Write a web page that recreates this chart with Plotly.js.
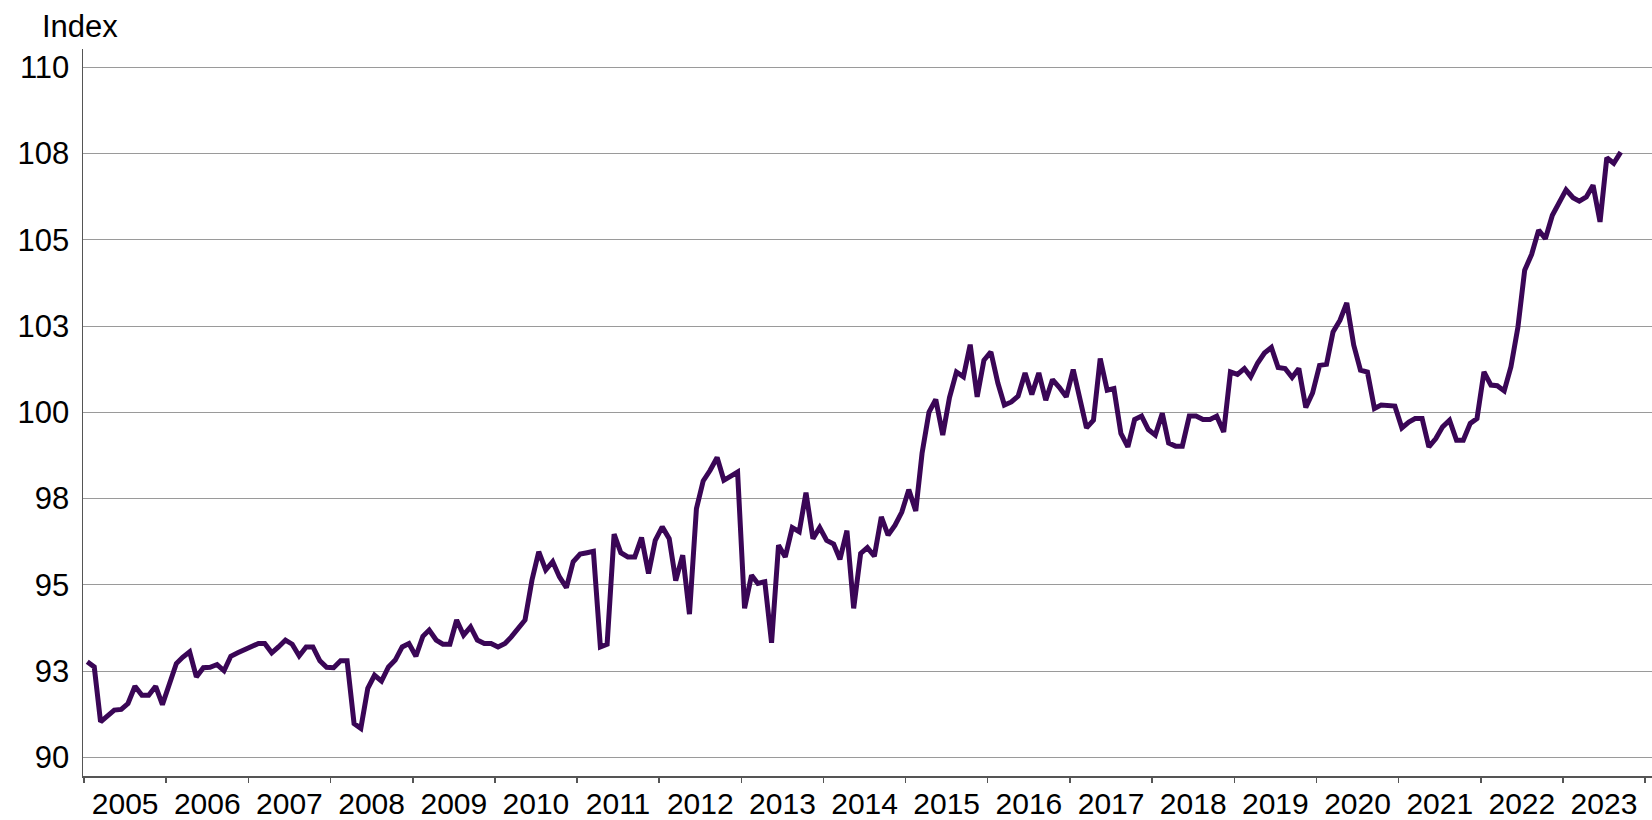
<!DOCTYPE html>
<html>
<head>
<meta charset="utf-8">
<script src="https://cdn.plot.ly/plotly-3.0.1.min.js"></script>
<style>
  html, body { margin: 0; padding: 0; background: #ffffff; }
  #chart { width: 1652px; height: 820px; }
</style>
</head>
<body>
<div id="chart"></div>
<script>
// Monthly index, January 2005 to September 2023
const firstYear = 2005;
const firstMonth = 1;
const indexValues = [
  // 2005
  92.77, 92.62, 91.03, 91.18, 91.37, 91.39, 91.56, 92.06, 91.80, 91.80, 92.06, 91.53,
  // 2006
  92.14, 92.72, 92.90, 93.06, 92.33, 92.60, 92.61, 92.69, 92.51, 92.93, 93.03, 93.13,
  // 2007
  93.22, 93.30, 93.30, 93.03, 93.20, 93.40, 93.28, 92.94, 93.20, 93.20, 92.80, 92.61,
  // 2008
  92.60, 92.80, 92.80, 90.98, 90.84, 92.00, 92.38, 92.21, 92.62, 92.82, 93.20, 93.30,
  // 2009
  92.93, 93.51, 93.69, 93.40, 93.28, 93.28, 93.98, 93.54, 93.78, 93.40, 93.30, 93.30,
  // 2010
  93.20, 93.30, 93.49, 93.77, 93.98, 95.14, 95.96, 95.43, 95.67, 95.23, 94.92, 95.67,
  // 2011
  95.89, 95.93, 95.97, 93.20, 93.28, 96.47, 95.93, 95.81, 95.81, 96.37, 95.33, 96.29,
  // 2012
  96.68, 96.34, 95.12, 95.86, 94.15, 97.21, 98.01, 98.32, 98.69, 98.03, 98.15, 98.27,
  // 2013
  94.32, 95.28, 95.04, 95.09, 93.32, 96.15, 95.81, 96.66, 96.54, 97.67, 96.34, 96.66,
  // 2014
  96.29, 96.18, 95.74, 96.57, 94.32, 95.91, 96.08, 95.83, 96.97, 96.44, 96.73, 97.11,
  // 2015
  97.76, 97.14, 98.81, 100.01, 100.37, 99.34, 100.43, 101.17, 101.03, 101.96, 100.45, 101.51,
  // 2016
  101.75, 100.85, 100.21, 100.30, 100.47, 101.14, 100.52, 101.14, 100.35, 100.95, 100.72, 100.45,
  // 2017
  101.24, 100.40, 99.55, 99.77, 101.56, 100.64, 100.69, 99.39, 99.00, 99.79, 99.89, 99.50,
  // 2018
  99.34, 99.97, 99.11, 99.02, 99.02, 99.89, 99.89, 99.79, 99.79, 99.89, 99.43, 101.17,
  // 2019
  101.10, 101.27, 101.03, 101.43, 101.72, 101.88, 101.30, 101.27, 101.01, 101.27, 100.14, 100.56,
  // 2020
  101.36, 101.39, 102.33, 102.67, 103.17, 101.95, 101.22, 101.17, 100.11, 100.21, 100.21, 100.18,
  // 2021
  99.55, 99.72, 99.82, 99.82, 99.00, 99.24, 99.58, 99.77, 99.19, 99.19, 99.68, 99.82,
  // 2022
  101.17, 100.79, 100.77, 100.62, 101.32, 102.47, 104.12, 104.58, 105.28, 105.03, 105.71, 106.10,
  // 2023
  106.45, 106.22, 106.12, 106.24, 106.58, 105.52, 107.38, 107.22, 107.54
];

const yTickVals = [90, 92.5, 95, 97.5, 100, 102.5, 105, 107.5, 110];
const yTickText = ["90", "93", "95", "98", "100", "103", "105", "108", "110"];
const yAxisLabel = "Index";

// Month dates (middle of each month)
const monthDates = indexValues.map((v, i) => {
  const total = (firstMonth - 1) + i;
  const y = firstYear + Math.floor(total / 12);
  const m = (total % 12) + 1;
  return y + "-" + String(m).padStart(2, "0") + "-15";
});

const trace = {
  x: monthDates,
  y: indexValues,
  type: "scatter",
  mode: "lines",
  line: { color: "#3a0656", width: 5 },
  hoverinfo: "x+y"
};

const fontFamily = "'Liberation Sans', Arial, Helvetica, sans-serif";

const layout = {
  width: 1652,
  height: 820,
  paper_bgcolor: "#ffffff",
  plot_bgcolor: "#ffffff",
  margin: { l: 83, r: 0, t: 49, b: 44, pad: 0 },
  showlegend: false,
  font: { family: fontFamily, size: 31, color: "#000000" },
  title: {
    text: yAxisLabel,
    xref: "container",
    yref: "container",
    x: 42 / 1652,
    xanchor: "left",
    y: 1 - 26 / 820,
    yanchor: "middle",
    font: { family: fontFamily, size: 31, color: "#000000" }
  },
  xaxis: {
    type: "date",
    range: ["2004-12-27", "2024-02-01"],
    tick0: "2005-01-01",
    dtick: "M12",
    tickformat: "%Y",
    ticklabelmode: "period",
    ticks: "outside",
    ticklen: 5,
    tickwidth: 1.5,
    tickcolor: "#555555",
    showline: true,
    linecolor: "#555555",
    linewidth: 1.5,
    showgrid: false,
    zeroline: false,
    ticklabelstandoff: -5,
    tickfont: { family: fontFamily, size: 30, color: "#000000" },
    fixedrange: true
  },
  yaxis: {
    range: [89.46, 110.53],
    tickmode: "array",
    tickvals: yTickVals,
    ticktext: yTickText,
    ticks: "",
    showline: true,
    linecolor: "#555555",
    linewidth: 1.5,
    showgrid: true,
    gridcolor: "#9a9a9a",
    gridwidth: 1,
    zeroline: false,
    ticklabelstandoff: 6,
    tickfont: { family: fontFamily, size: 31, color: "#000000" },
    fixedrange: true
  }
};

Plotly.newPlot("chart", [trace], layout, { displayModeBar: false, staticPlot: true });
</script>
</body>
</html>
